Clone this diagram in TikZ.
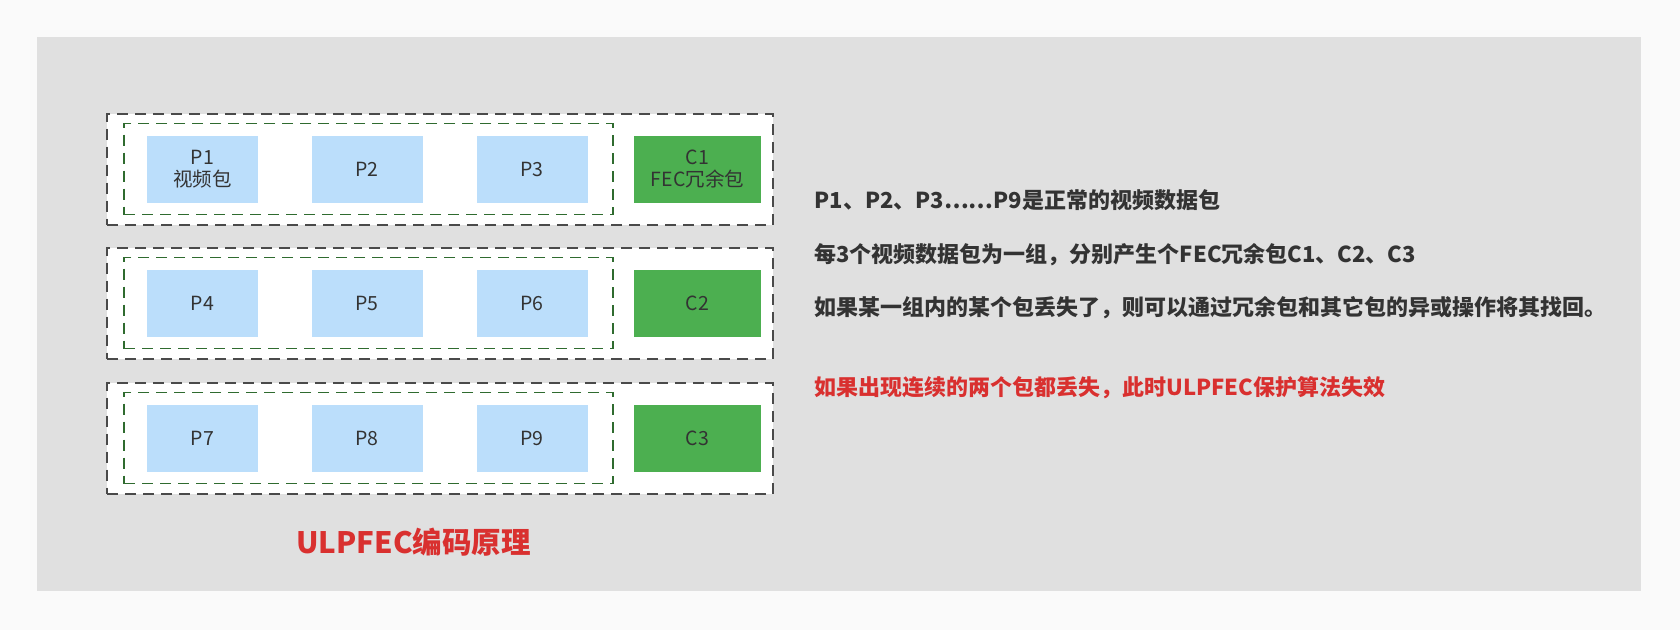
\documentclass[tikz,border=0pt]{standalone}
\usepackage{fontspec}
\setmainfont{Noto Sans CJK SC}
\usepackage{tikz}
\definecolor{pagebg}{HTML}{FAFAFA}
\definecolor{panelbg}{HTML}{E0E0E0}
\definecolor{pktblue}{HTML}{BBDEFB}
\definecolor{fecgreen}{HTML}{4CAF50}
\definecolor{grpgray}{HTML}{4A4A4A}
\definecolor{subgreen}{HTML}{2F6B2F}
\definecolor{txtdark}{HTML}{333333}
\definecolor{warnred}{HTML}{D9302F}

\begin{document}
\begin{tikzpicture}[x=1pt,y=-1pt,
  pkt/.style={fill=pktblue,text=txtdark,minimum width=111pt,minimum height=67pt,inner sep=0pt,align=center,font=\fontsize{19.5}{22}\selectfont},
  fec/.style={pkt,fill=fecgreen,minimum width=127pt},
  grp/.style={draw=grpgray,fill=white,line width=2pt,dash pattern=on 11pt off 7pt,minimum width=666pt,minimum height=111pt,inner sep=0pt},
  sub/.style={draw=subgreen,line width=1.7pt,dash pattern=on 11pt off 7pt,minimum width=489pt,minimum height=91pt,inner sep=0pt},
  note/.style={anchor=west,text=txtdark,font=\bfseries\fontsize{22}{26}\selectfont}]
\fill[pagebg] (0,0) rectangle (1680,630);
\fill[panelbg] (37,37) rectangle (1641,591);
\node[grp] (g1) at (440,169) {};
\node[sub] (s1) at (368.5,169) {};
\node[pkt] (p1) at (202.5,169) {P1\\视频包};
\node[pkt] (p2) at (367,169) {P2};
\node[pkt] (p3) at (532,169) {P3};
\node[fec] (c1) at (697.5,169) {C1\\FEC冗余包};
\node[grp] (g2) at (440,303) {};
\node[sub] (s2) at (368.5,303) {};
\node[pkt] (p4) at (202.5,303) {P4};
\node[pkt] (p5) at (367,303) {P5};
\node[pkt] (p6) at (532,303) {P6};
\node[fec] (c2) at (697.5,303) {C2};
\node[grp] (g3) at (440,438) {};
\node[sub] (s3) at (368.5,438) {};
\node[pkt] (p7) at (202.5,438) {P7};
\node[pkt] (p8) at (367,438) {P8};
\node[pkt] (p9) at (532,438) {P9};
\node[fec] (c3) at (697.5,438) {C3};
\node[text=warnred,font=\bfseries\fontsize{29.5}{34}\selectfont] (title) at (413.5,542) {ULPFEC编码原理};
\node[note] (n1) at (811,200) {P1、P2、P3……P9是正常的视频数据包};
\node[note] (n2) at (811,255) {每3个视频数据包为一组，分别产生个FEC冗余包C1、C2、C3};
\node[note] (n3) at (811,307.5) {如果某一组内的某个包丢失了，则可以通过冗余包和其它包的异或操作将其找回。};
\node[note,text=warnred] (n4) at (811,388) {如果出现连续的两个包都丢失，此时ULPFEC保护算法失效};
\end{tikzpicture}
\end{document}
